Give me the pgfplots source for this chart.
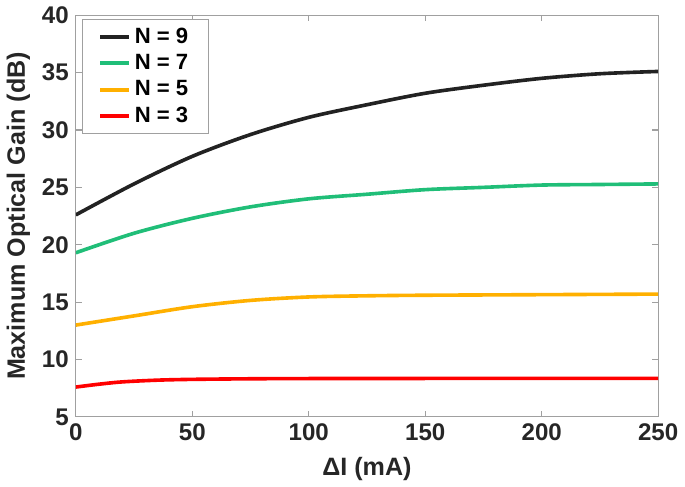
\documentclass[border=0pt]{standalone}
\usepackage{pgfplots}
\pgfplotsset{compat=1.18}
\usepackage{fontspec}
\setmainfont{Liberation Sans}
\definecolor{cblack}{RGB}{34,34,34}
\definecolor{cgreen}{RGB}{32,190,120}
\definecolor{corange}{RGB}{255,176,0}
\definecolor{cred}{RGB}{255,0,0}
\definecolor{axgray}{RGB}{160,160,160}
\begin{document}
\begin{tikzpicture}
\begin{axis}[
  scale only axis,
  width=290pt, height=200pt,
  xmin=0, xmax=250, ymin=5, ymax=40,
  xtick={0,50,100,150,200,250},
  ytick={5,10,15,20,25,30,35,40},
  tick align=inside,
  tick pos=both,
  major tick length=3pt,
  axis line style={axgray, line width=0.6pt},
  tick style={axgray, line width=0.6pt},
  /pgf/number format/assume math mode=true,
  ticklabel style={font=\fontsize{12}{14}\selectfont\bfseries, text=black!85},
  label style={font=\fontsize{12.5}{14}\selectfont\bfseries, text=black!85},
  xlabel={ΔI (mA)},
  ylabel={Maximum Optical Gain (dB)},
  xlabel style={yshift=-1pt},
  ylabel style={yshift=-1pt},
  legend style={at={(0.01,0.99)}, anchor=north west, draw=axgray, line width=0.6pt,
    font=\fontsize{11}{13}\selectfont\bfseries, row sep=0pt, inner xsep=8pt, inner ysep=2pt},
  legend cell align=left,
  legend image code/.code={\draw[#1, line width=2pt] (0cm,0cm) -- (0.5cm,0cm);},
  every axis plot/.append style={line width=1.8pt, smooth, tension=0.5},
]
\addplot[cblack] coordinates {(0,22.6) (25,25.3) (50,27.7) (75,29.6) (100,31.1) (125,32.2) (150,33.2) (175,33.9) (200,34.5) (225,34.9) (250,35.1)};
\addlegendentry{N = 9}
\addplot[cgreen] coordinates {(0,19.3) (25,21.0) (50,22.3) (75,23.3) (100,24.0) (125,24.4) (150,24.8) (175,25.0) (200,25.2) (225,25.25) (250,25.3)};
\addlegendentry{N = 7}
\addplot[corange] coordinates {(0,13.0) (25,13.8) (50,14.6) (75,15.15) (100,15.45) (125,15.55) (150,15.6) (200,15.65) (250,15.7)};
\addlegendentry{N = 5}
\addplot[cred] coordinates {(0,7.6) (10,7.85) (20,8.05) (35,8.2) (50,8.27) (75,8.32) (100,8.34) (150,8.35) (250,8.35)};
\addlegendentry{N = 3}
\end{axis}
\end{tikzpicture}
\end{document}
